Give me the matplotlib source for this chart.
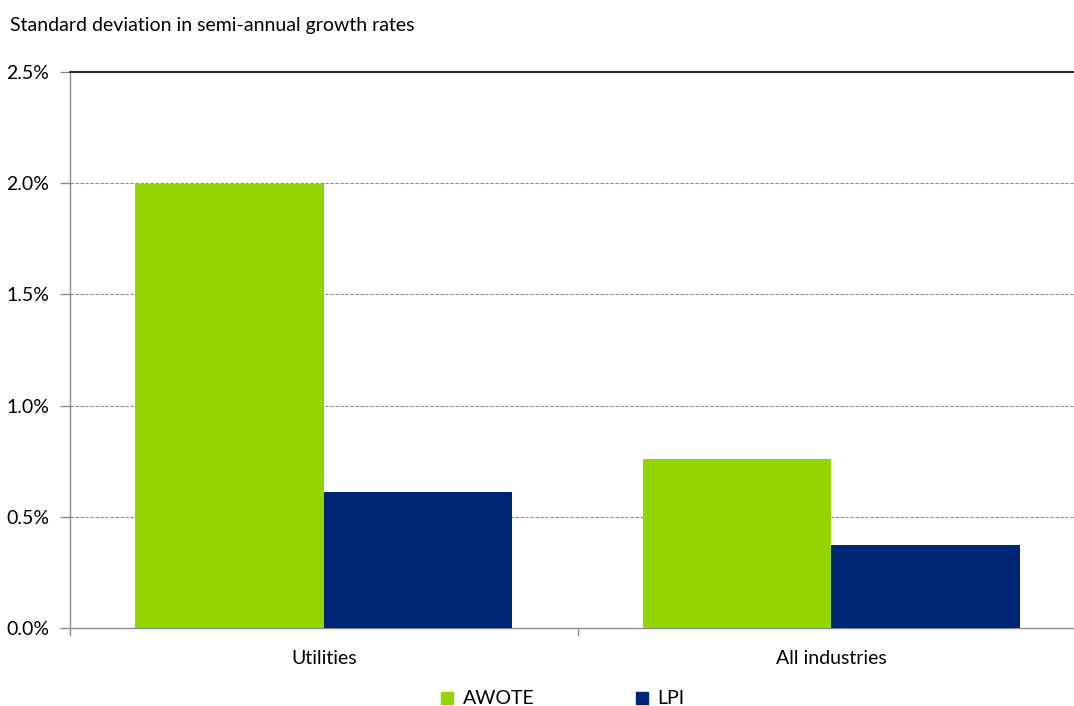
import matplotlib
matplotlib.use("Agg")
import matplotlib.pyplot as plt
import numpy as np
from matplotlib.ticker import FuncFormatter, FixedLocator
from matplotlib.lines import Line2D

categories = ["Utilities", "All industries"]
series_names = ["AWOTE", "LPI"]
awote = [1.995, 0.76]
lpi = [0.61, 0.375]
colors = ["#93D500", "#002776"]
yticks = [0.0, 0.5, 1.0, 1.5, 2.0, 2.5]

plt.rcParams['font.family'] = ['Lato', 'DejaVu Sans']
FS = 14

fig = plt.figure(figsize=(10.74, 7.06), dpi=100)
ax = fig.add_axes([70/1074, 1-628/706, (1085-70)/1074, (628-72)/706])

x = np.arange(len(categories))
w = 0.371
ax.bar(x - w/2, awote, w, color=colors[0], label=series_names[0], zorder=3)
ax.bar(x + w/2, lpi, w, color=colors[1], label=series_names[1], zorder=3)

ax.set_xlim(-0.5, len(categories) - 0.5)
ax.set_ylim(0, 2.5)
ax.set_yticks(yticks)
ax.yaxis.set_major_formatter(FuncFormatter(lambda v, p: f"{v:.1f}%"))
for yv in yticks[1:-1]:
    ax.axhline(yv, color="#8c8c8c", linestyle=(0, (3, 1.5)), linewidth=0.8, zorder=1)

ax.set_xticks(x)
ax.set_xticklabels(categories)
ax.xaxis.set_minor_locator(FixedLocator([-0.5, 0.5, 1.5]))
ax.tick_params(axis="x", which="major", length=0, pad=16, labelsize=FS)
ax.tick_params(axis="x", which="minor", length=6, color="#8c8c8c", width=1)
ax.tick_params(axis="y", length=7, color="#8c8c8c", width=1, pad=8, labelsize=FS)

ax.spines["right"].set_visible(False)
ax.spines["top"].set_color("black")
ax.spines["top"].set_linewidth(1.2)
ax.spines["left"].set_color("#8c8c8c")
ax.spines["bottom"].set_color("#8c8c8c")
ax.spines["left"].set_linewidth(1)
ax.spines["bottom"].set_linewidth(1)

fig.text(10/1074, 1-25/706, "Standard deviation in semi-annual growth rates",
         fontsize=FS, va="center", ha="left")

handles = [Line2D([0], [0], marker="s", linestyle="", markersize=9,
                  markerfacecolor=c, markeredgecolor=c) for c in colors]
fig.legend(handles, series_names, loc="center", bbox_to_anchor=(561/1074, 1-699/706),
           ncol=2, frameon=False, fontsize=FS, columnspacing=5.0, handletextpad=0.3,
           handlelength=1)

fig.savefig("out.png", dpi=100)
